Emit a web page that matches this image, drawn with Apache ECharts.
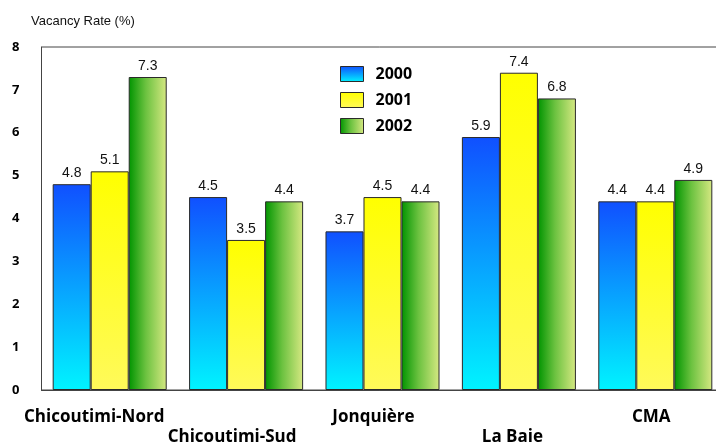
<!DOCTYPE html>
<html>
<head>
<meta charset="utf-8">
<script src="https://cdn.jsdelivr.net/npm/echarts@6/dist/echarts.min.js"></script>
<style>
  html, body { margin: 0; padding: 0; background: #fff; }
  #chart { width: 716px; height: 444px; }
</style>
</head>
<body>
<div id="chart"></div>
<script>
// Vacancy rates by sub-area, three survey years
const categories = ['Chicoutimi-Nord', 'Chicoutimi-Sud', 'Jonquière', 'La Baie', 'CMA'];
const years = ['2000', '2001', '2002'];
const rate2000 = [4.8, 4.5, 3.7, 5.9, 4.4];
const rate2001 = [5.1, 3.5, 4.5, 7.4, 4.4];
const rate2002 = [7.3, 4.4, 4.4, 6.8, 4.9];
const yTicks = [0, 1, 2, 3, 4, 5, 6, 7, 8];

const boldFont = '"Open Sans", Lato, sans-serif';
const catFontSize = 17;

// Category names sit slightly left of their group, by a share of their width
const measure = document.createElement('canvas').getContext('2d');
measure.font = 'bold ' + catFontSize + 'px "Open Sans"';
const categoryItems = categories.map(name => ({
  value: name,
  textStyle: { padding: [0, Math.round(measure.measureText(name).width * 0.22), 0, 0] }
}));

const fills = [
  new echarts.graphic.LinearGradient(0, 0, 0, 1, [
    { offset: 0, color: '#1050ff' },
    { offset: 1, color: '#00f4ff' }
  ]),
  new echarts.graphic.LinearGradient(0, 0, 0, 1, [
    { offset: 0, color: '#ffff00' },
    { offset: 1, color: '#fffa5a' }
  ]),
  new echarts.graphic.LinearGradient(0, 0, 1, 0, [
    { offset: 0, color: '#009400' },
    { offset: 0.45, color: '#6cc240' },
    { offset: 1, color: '#d6e882' }
  ])
];
const values = [rate2000, rate2001, rate2002];

const chart = echarts.init(document.getElementById('chart'));
chart.setOption({
  animation: false,
  backgroundColor: '#ffffff',
  title: {
    text: 'Vacancy Rate (%)',
    left: 26, top: 10,
    textStyle: { fontFamily: 'Liberation Sans, Arial, sans-serif', fontSize: 13, fontWeight: 'normal', color: '#111' }
  },
  legend: {
    orient: 'vertical',
    left: 335, top: 61,
    itemWidth: 23, itemHeight: 15, itemGap: 10,
    icon: 'rect',
    data: years,
    itemStyle: { borderColor: '#2a2a2a', borderWidth: 1 },
    textStyle: { fontFamily: boldFont, fontWeight: 'bold', fontSize: 16, lineHeight: 16, color: '#000', padding: [0, 0, 0, 7] }
  },
  grid: {
    left: 41.5, top: 47, width: 682, height: 343,
    outerBoundsMode: 'none',
    containLabel: false,
    show: true, borderColor: '#444', borderWidth: 1, backgroundColor: 'transparent'
  },
  xAxis: {
    type: 'category',
    data: categoryItems,
    axisLine: { lineStyle: { color: '#444' } },
    axisTick: { show: false },
    axisLabel: {
      interval: 0,
      margin: 17,
      fontFamily: boldFont, fontWeight: 'bold', fontSize: catFontSize, color: '#000',
      lineHeight: 20,
      formatter: (v, i) => (i % 2 ? '\n' + v : v)
    }
  },
  yAxis: {
    type: 'value',
    min: yTicks[0], max: yTicks[yTicks.length - 1], interval: 1,
    splitLine: { show: false },
    axisLine: { show: true, lineStyle: { color: '#444' } },
    axisTick: { show: false },
    axisLabel: {
      margin: 22,
      fontFamily: boldFont, fontWeight: 'bold', fontSize: 13, color: '#000'
    }
  },
  series: years.map((y, k) => ({
    name: y,
    type: 'bar',
    data: values[k],
    barGap: '0%',
    barCategoryGap: '16.4%',
    itemStyle: { color: fills[k], borderColor: '#2a2a2a', borderWidth: 1 },
    label: {
      show: true, position: 'top', distance: 4,
      fontFamily: 'Liberation Sans, Arial, sans-serif', fontSize: 14, color: '#111',
      formatter: p => p.value.toFixed(1)
    }
  }))
});
</script>
</body>
</html>
